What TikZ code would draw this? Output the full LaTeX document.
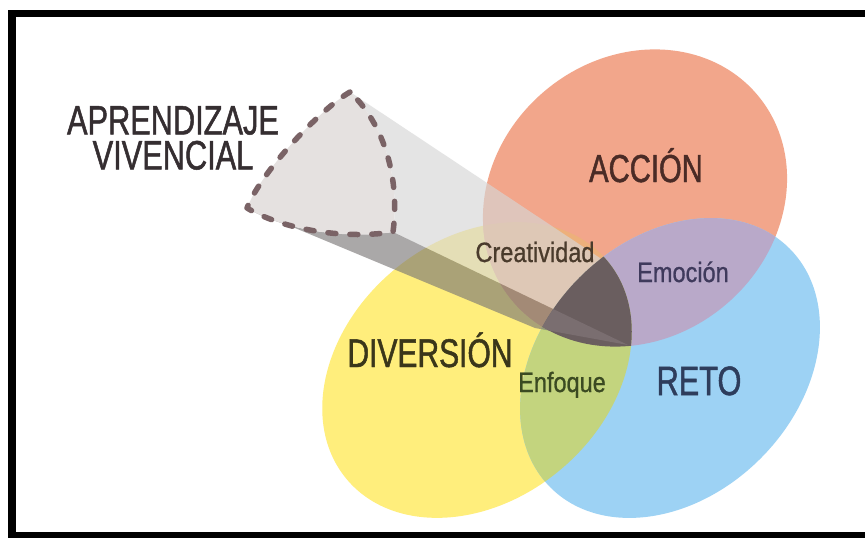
\documentclass[tikz,border=0pt]{standalone}
\usepackage{fontspec}
\newfontfamily\bigf[FakeStretch=0.75,FakeBold=1.2]{Liberation Sans}
\newfontfamily\smallf[FakeStretch=0.84,FakeBold=0.8]{Liberation Sans}
\definecolor{yel}{HTML}{FFEE7C}
\definecolor{sal}{HTML}{F2A68B}
\definecolor{blu}{HTML}{9DD2F4}
\definecolor{ora}{HTML}{EDB07B}
\definecolor{pur}{HTML}{B9A9C9}
\definecolor{gre}{HTML}{C3D47E}
\definecolor{drk}{HTML}{6A5E5F}
\definecolor{drkb}{HTML}{7A6E70}
\definecolor{tri}{HTML}{E5E1E0}
\definecolor{dash}{HTML}{7A6366}
\definecolor{lface}{HTML}{D6D6D6}
\definecolor{dface}{HTML}{777474}
\definecolor{txtap}{HTML}{352E31}
\tikzset{
  eY/.style={shift={(477,370)},rotate=40},
  eS/.style={shift={(635,198)},rotate=40},
  eB/.style={shift={(670,368)},rotate=45},
  big/.style={font=\bigf\fontsize{41}{41}\selectfont, anchor=base, inner sep=0pt},
  small/.style={font=\smallf\fontsize{28}{28}\selectfont, anchor=base, inner sep=0pt},
}
\begin{document}
\begin{tikzpicture}[x=1pt,y=-1pt]
\useasboundingbox (0,0) rectangle (865,538);
\fill[white] (0,0) rectangle (865,538);
% circles
\fill[yel,eY] (0,0) ellipse (170 and 130);
\fill[sal,eS] (0,0) ellipse (160 and 140);
\fill[blu,eB] (0,0) ellipse (169 and 128);
% pairwise
\begin{scope}
  \clip[eY] (0,0) ellipse (170 and 130);
  \fill[ora,eS] (0,0) ellipse (160 and 140);
\end{scope}
\begin{scope}
  \clip[eS] (0,0) ellipse (160 and 140);
  \fill[pur,eB] (0,0) ellipse (169 and 128);
\end{scope}
\begin{scope}
  \clip[eY] (0,0) ellipse (170 and 130);
  \fill[gre,eB] (0,0) ellipse (169 and 128);
\end{scope}
% beam faces
\coordinate (T) at (350,92);
\coordinate (Tp) at (600,258);
\coordinate (B) at (393,232);
\coordinate (Bp) at (628,345);
\coordinate (L) at (247,208);
\coordinate (Lp) at (535,328);
\fill[lface,opacity=0.65] (T) -- (Tp) -- (Bp) -- (B) .. controls (400,180) and (385,125) .. (T) -- cycle;
\fill[dface,opacity=0.62] (L) -- (Lp) -- (Bp) -- (B) .. controls (340,240) and (280,228) .. (L) -- cycle;
% triple intersection
\begin{scope}
  \clip[eY] (0,0) ellipse (170 and 130);
  \clip[eS] (0,0) ellipse (160 and 140);
  \fill[drk,eB] (0,0) ellipse (169 and 128);
  \clip[eB] (0,0) ellipse (169 and 128);
  \fill[drkb] (L) -- (Lp) -- (Bp) -- (B) -- cycle;
\end{scope}
% dashed triangle
\filldraw[fill=tri, draw=dash, line width=5.5pt, line cap=round, line join=round, dash pattern=on 8pt off 14pt]
  (T) .. controls (322,108) and (262,170) .. (L)
  .. controls (280,228) and (340,240) .. (B)
  .. controls (400,180) and (385,125) .. (T) -- cycle;
% frame
\fill[black] (8,10) rectangle (865,17);
\fill[black] (8,10) rectangle (16,538);
\fill[black] (8,532) rectangle (865,538);
% texts
\node[big, text=txtap, anchor=center, align=center, font=\bigf\fontsize{41}{35}\selectfont] (ap) at (173,138) {APRENDIZAJE\\VIVENCIAL};
\node[big, text={rgb,255:red,74;green,43;blue,38}, font=\bigf\fontsize{39}{39}\selectfont] (ac) at (646,182) {ACCIÓN};
\node[big, text={rgb,255:red,58;green,54;blue,26}, font=\bigf\fontsize{40}{40}\selectfont] (di) at (430,367) {DIVERSIÓN};
\node[big, text={rgb,255:red,46;green,61;blue,92}, font=\bigf\fontsize{41}{41}\selectfont] (re) at (699,395) {RETO};
\node[small, text={rgb,255:red,74;green,59;blue,44}] (cr) at (535,262) {Creatividad};
\node[small, text={rgb,255:red,63;green,58;blue,92}] (em) at (683,282) {Emoción};
\node[small, text={rgb,255:red,59;green,74;blue,34}] (en) at (562,392) {Enfoque};
\end{tikzpicture}
\end{document}
